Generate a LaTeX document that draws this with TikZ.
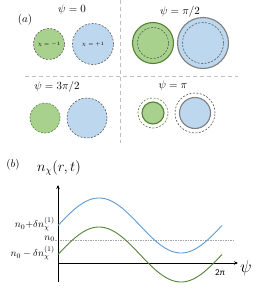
\documentclass[tikz,border=0pt]{standalone}
\usepackage{fontspec}
\newfontfamily\calfont{Carlito}
\usetikzlibrary{arrows.meta}
\definecolor{gfill}{HTML}{A9D18E}
\definecolor{gdark}{HTML}{548235}
\definecolor{bfill}{HTML}{BDD7EE}
\definecolor{bcurve}{HTML}{5B9BD5}
\definecolor{gcurve}{HTML}{548235}
\definecolor{dgray}{HTML}{595959}
\definecolor{mgray}{HTML}{7F7F7F}
\tikzset{
  sep/.style={draw=gray!50, dashed, line width=0.7pt, dash pattern=on 4pt off 3pt},
  circ/.style={circle, inner sep=0pt, outer sep=0pt},
  dsh/.style={dashed, dash pattern=on 2pt off 1.5pt, line width=0.6pt},
  ttl/.style={font=\fontsize{10.5}{12}\selectfont},
  chi/.style={font=\fontsize{5.5}{6}\selectfont},
  lab/.style={font=\fontsize{10}{11}\selectfont, anchor=east, inner sep=1pt},
}
\begin{document}
\begin{tikzpicture}[x=1pt,y=-1pt]
\useasboundingbox (0,0) rectangle (270,295);
% separators
\coordinate (vt) at (120,0); \coordinate (vb) at (120,143);
\coordinate (hl) at (25,76); \coordinate (hr) at (238,76);
\draw[sep] (vt) -- (vb);
\draw[sep] (hl) -- (hr);
% labels
\node[ttl] (a) at (25,20) {$(a)$};
\node[ttl] (t1) at (72,10) {$\psi=0$};
\node[ttl] (t2) at (180,12) {$\psi=\pi/2$};
\node[ttl] (t3) at (57,87) {$\psi=3\pi/2$};
\node[ttl] (t4) at (173,86) {$\psi=\pi$};
% psi = 0
\node[circ, fill=gfill, draw=dgray, dsh, minimum size=31pt] (g1) at (49,44) {};
\node[chi] at (g1) {$\chi=-1$};
\node[circ, fill=bfill, draw=dgray, dsh, minimum size=41pt] (b1) at (93,44) {};
\node[chi] at (b1) {$\chi=+1$};
% psi = pi/2
\node[circ, fill=gfill, draw=gdark, line width=1.1pt, minimum size=41pt] (g2) at (153,43) {};
\node[circ, draw=dgray, dsh, minimum size=31pt] (g2i) at (153,43) {};
\node[circ, fill=bfill, draw=mgray, line width=1.1pt, minimum size=51pt] (b2) at (203,43) {};
\node[circ, draw=dgray, dsh, minimum size=41pt] (b2i) at (203,43) {};
% psi = 3pi/2
\node[circ, fill=gfill, draw=gdark, dsh, minimum size=30pt] (g3) at (45,118) {};
\node[circ, fill=bfill, draw=dgray, dsh, minimum size=40pt] (b3) at (87,118) {};
% psi = pi
\node[circ, draw=gdark, dsh, minimum size=30pt] (g4o) at (153,113) {};
\node[circ, fill=gfill, draw=gdark, line width=1.1pt, minimum size=22pt] (g4) at (153,113) {};
\node[circ, draw=dgray, dsh, minimum size=40pt] (b4o) at (195,113) {};
\node[circ, fill=bfill, draw=mgray, line width=1.1pt, minimum size=31pt] (b4) at (195,113) {};
% panel b
\node[ttl] (bb) at (13,165) {$(b)$};
\node[font=\fontsize{14}{15}\selectfont] (ny) at (59,168) {$n_\chi(r,t)$};
\coordinate (yb) at (58,282); \coordinate (yt) at (58,185);
\coordinate (xl) at (58,263); \coordinate (xr) at (238,263);
\coordinate (nl) at (55,240); \coordinate (nr) at (233,240);
\draw[gray!70, dashed, dash pattern=on 1.5pt off 1pt, line width=0.5pt] (nl) -- (nr);
\draw[line width=1pt, -{Stealth[length=4pt,width=3.5pt]}] (yb) -- (yt);
\draw[line width=1pt, -{Stealth[length=4pt,width=3.5pt]}] (xl) -- (xr);
\node[font=\fontsize{17}{18}\selectfont] (psi) at (246,268) {$\psi$};
\node[font=\calfont\fontsize{9}{10}\selectfont] (tp) at (220,273) {2π};
\draw[bcurve, line width=0.9pt] plot[domain=0:360, samples=80] ({58+0.455556*\x},{225.5-27.5*sin(\x)});
\draw[gcurve, line width=0.9pt] plot[domain=0:360, samples=80] ({58+0.455556*\x},{254.5-27.5*sin(\x)});
\node[lab] (l1) at (56,224) {$n_0{+}\delta n_\chi^{(1)}$};
\node[lab] (l2) at (56,239) {$n_0$};
\node[lab] (l3) at (56,253) {$n_0-\delta n_\chi^{(1)}$};
\end{tikzpicture}
\end{document}
